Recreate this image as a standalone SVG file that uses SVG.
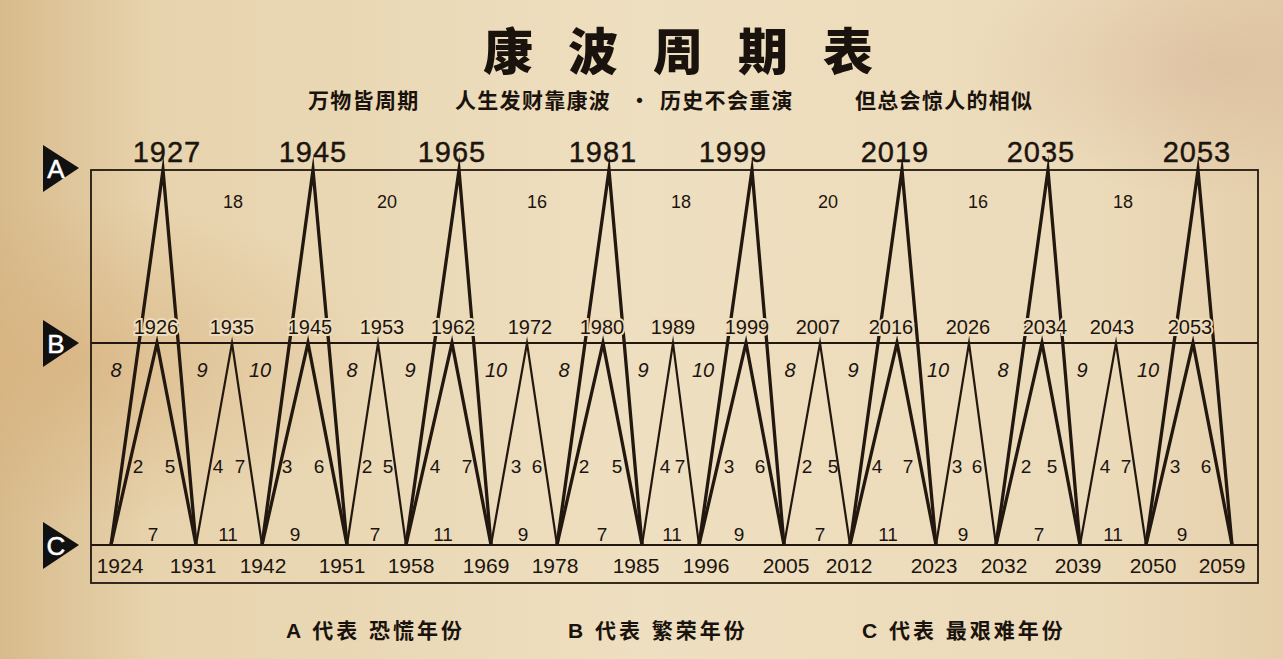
<svg xmlns="http://www.w3.org/2000/svg" width="1283" height="659" viewBox="0 0 1283 659">
<defs>
<linearGradient id="bg" x1="0" y1="0" x2="1" y2="0">
<stop offset="0" stop-color="#d8bb8c"/>
<stop offset="0.12" stop-color="#e7d3ad"/>
<stop offset="0.5" stop-color="#eedfc0"/>
<stop offset="0.85" stop-color="#ecdbba"/>
<stop offset="1" stop-color="#e5cfab"/>
</linearGradient>
<radialGradient id="spot1" cx="0.05" cy="0.55" r="0.25">
<stop offset="0" stop-color="#d6ad78" stop-opacity="0.6"/>
<stop offset="1" stop-color="#d6ad78" stop-opacity="0"/>
</radialGradient>
<radialGradient id="spot2" cx="0.95" cy="0.1" r="0.2">
<stop offset="0" stop-color="#d8b89a" stop-opacity="0.6"/>
<stop offset="1" stop-color="#d8b89a" stop-opacity="0"/>
</radialGradient>
<style>
.t{fill:none;stroke:#221810;stroke-width:3.3;stroke-linejoin:miter;stroke-miterlimit:20}
.n{fill:none;stroke:#221810;stroke-width:2.2;stroke-linejoin:miter;stroke-miterlimit:20}
.box{fill:none;stroke:#221810;stroke-width:1.8}
.ay{font-family:"Liberation Sans",Arial,sans-serif;font-size:29px;fill:#1c140e;text-anchor:middle;letter-spacing:1px;stroke:#1c140e;stroke-width:0.4}
.by{font-family:"Liberation Sans",Arial,sans-serif;font-size:20px;fill:#1c140e;text-anchor:middle;stroke:#ecdcbc;stroke-width:4;paint-order:stroke}
.cy{font-family:"Liberation Sans",Arial,sans-serif;font-size:21px;fill:#1c140e;text-anchor:middle}
.ai{font-family:"Liberation Sans",Arial,sans-serif;font-size:18px;fill:#1c140e;text-anchor:middle}
.it{font-family:"Liberation Sans",Arial,sans-serif;font-size:20px;font-style:italic;fill:#1c140e;text-anchor:middle}
.up{font-family:"Liberation Sans",Arial,sans-serif;font-size:19px;fill:#1c140e;text-anchor:middle}
.tri{fill:#111}
.tl{font-family:"Liberation Sans",Arial,sans-serif;font-size:26px;fill:#fff;text-anchor:middle;stroke:#fff;stroke-width:0.5}
.title{font-family:"Noto Sans CJK SC",sans-serif;font-size:50px;font-weight:900;fill:#1a130d;letter-spacing:35px}
.sub{font-family:"Noto Sans CJK SC",sans-serif;font-size:21px;font-weight:bold;fill:#1a130d;letter-spacing:1.3px}
.leg{font-family:"Liberation Sans","Noto Sans CJK SC",sans-serif;font-size:21px;font-weight:bold;fill:#1a130d;letter-spacing:3px}
</style>
</defs>
<rect width="1283" height="659" fill="url(#bg)"/>
<rect width="1283" height="659" fill="url(#spot1)"/>
<rect width="1283" height="659" fill="url(#spot2)"/>

<g id="title">
<text class="title" x="483" y="70">康波周期表</text>
<text class="sub" x="308" y="108">万物皆周期</text>
<text class="sub" x="455" y="108">人生发财靠康波</text>
<text class="sub" x="629" y="108">·</text>
<text class="sub" x="660" y="108">历史不会重演</text>
<text class="sub" x="855" y="108">但总会惊人的相似</text>
</g>

<g id="frame">
<rect class="box" x="91" y="170" width="1167" height="413"/>
<line class="box" x1="91" y1="343" x2="1258" y2="343"/>
<line class="box" x1="91" y1="545" x2="1258" y2="545"/>
</g>

<g id="markers">
<g id="mark-A"><polygon class="tri" points="43,145 43,192 79,168"/><text class="tl" x="56" y="178">A</text></g>
<g id="mark-B"><polygon class="tri" points="43,320 43,367 79,343"/><text class="tl" x="56" y="353">B</text></g>
<g id="mark-C"><polygon class="tri" points="43,522 43,569 79,545"/><text class="tl" x="56" y="555">C</text></g>
</g>

<g id="connectors">
<polyline class="t" points="111,545 163,170 196,545"/>
<polyline class="t" points="262,545 313,170 347,545"/>
<polyline class="t" points="406,545 459,170 491,545"/>
<polyline class="t" points="557,545 609,170 642,545"/>
<polyline class="t" points="699,545 752,170 784,545"/>
<polyline class="t" points="850,545 902,170 936,545"/>
<polyline class="t" points="996,545 1048,170 1080,545"/>
<polyline class="t" points="1146,545 1198,170 1232,545"/>
<polyline class="t" points="111,545 157,343 196,545"/>
<polyline class="n" points="196,545 232,343 262,545"/>
<polyline class="t" points="262,545 308,343 347,545"/>
<polyline class="n" points="347,545 378,343 406,545"/>
<polyline class="t" points="406,545 452,343 491,545"/>
<polyline class="n" points="491,545 527,343 557,545"/>
<polyline class="t" points="557,545 603,343 642,545"/>
<polyline class="n" points="642,545 673,343 699,545"/>
<polyline class="t" points="699,545 746,343 784,545"/>
<polyline class="n" points="784,545 820,343 850,545"/>
<polyline class="t" points="850,545 897,343 936,545"/>
<polyline class="n" points="936,545 969,343 996,545"/>
<polyline class="t" points="996,545 1042,343 1080,545"/>
<polyline class="n" points="1080,545 1116,343 1146,545"/>
<polyline class="t" points="1146,545 1193,343 1232,545"/>
</g>

<g id="A-years">
<g id="A1927"><text class="ay" x="167" y="162">1927</text></g>
<g id="A1945"><text class="ay" x="313" y="162">1945</text></g>
<g id="A1965"><text class="ay" x="452" y="162">1965</text></g>
<g id="A1981"><text class="ay" x="603" y="162">1981</text></g>
<g id="A1999"><text class="ay" x="733" y="162">1999</text></g>
<g id="A2019"><text class="ay" x="895" y="162">2019</text></g>
<g id="A2035"><text class="ay" x="1041" y="162">2035</text></g>
<g id="A2053"><text class="ay" x="1197" y="162">2053</text></g>
</g>

<g id="A-intervals">
<text class="ai" x="233" y="208">18</text>
<text class="ai" x="387" y="208">20</text>
<text class="ai" x="537" y="208">16</text>
<text class="ai" x="681" y="208">18</text>
<text class="ai" x="828" y="208">20</text>
<text class="ai" x="978" y="208">16</text>
<text class="ai" x="1123" y="208">18</text>
</g>

<g id="B-years">
<g id="B1926"><text class="by" x="156" y="334">1926</text></g>
<g id="B1935"><text class="by" x="232" y="334">1935</text></g>
<g id="B1945"><text class="by" x="310" y="334">1945</text></g>
<g id="B1953"><text class="by" x="382" y="334">1953</text></g>
<g id="B1962"><text class="by" x="453" y="334">1962</text></g>
<g id="B1972"><text class="by" x="530" y="334">1972</text></g>
<g id="B1980"><text class="by" x="602" y="334">1980</text></g>
<g id="B1989"><text class="by" x="673" y="334">1989</text></g>
<g id="B1999"><text class="by" x="747" y="334">1999</text></g>
<g id="B2007"><text class="by" x="818" y="334">2007</text></g>
<g id="B2016"><text class="by" x="891" y="334">2016</text></g>
<g id="B2026"><text class="by" x="968" y="334">2026</text></g>
<g id="B2034"><text class="by" x="1045" y="334">2034</text></g>
<g id="B2043"><text class="by" x="1112" y="334">2043</text></g>
<g id="B2053"><text class="by" x="1190" y="334">2053</text></g>
</g>

<g id="B-intervals">
<text class="it" x="116" y="377">8</text>
<text class="it" x="202" y="377">9</text>
<text class="it" x="260" y="377">10</text>
<text class="it" x="352" y="377">8</text>
<text class="it" x="410" y="377">9</text>
<text class="it" x="496" y="377">10</text>
<text class="it" x="564" y="377">8</text>
<text class="it" x="643" y="377">9</text>
<text class="it" x="703" y="377">10</text>
<text class="it" x="790" y="377">8</text>
<text class="it" x="853" y="377">9</text>
<text class="it" x="938" y="377">10</text>
<text class="it" x="1003" y="377">8</text>
<text class="it" x="1082" y="377">9</text>
<text class="it" x="1148" y="377">10</text>
</g>

<g id="mid-intervals">
<text class="up" x="138" y="473">2</text>
<text class="up" x="170" y="473">5</text>
<text class="up" x="218" y="473">4</text>
<text class="up" x="240" y="473">7</text>
<text class="up" x="287" y="473">3</text>
<text class="up" x="319" y="473">6</text>
<text class="up" x="367" y="473">2</text>
<text class="up" x="388" y="473">5</text>
<text class="up" x="435" y="473">4</text>
<text class="up" x="467" y="473">7</text>
<text class="up" x="516" y="473">3</text>
<text class="up" x="537" y="473">6</text>
<text class="up" x="584" y="473">2</text>
<text class="up" x="617" y="473">5</text>
<text class="up" x="665" y="473">4</text>
<text class="up" x="680" y="473">7</text>
<text class="up" x="729" y="473">3</text>
<text class="up" x="760" y="473">6</text>
<text class="up" x="807" y="473">2</text>
<text class="up" x="833" y="473">5</text>
<text class="up" x="877" y="473">4</text>
<text class="up" x="908" y="473">7</text>
<text class="up" x="957" y="473">3</text>
<text class="up" x="977" y="473">6</text>
<text class="up" x="1026" y="473">2</text>
<text class="up" x="1052" y="473">5</text>
<text class="up" x="1105" y="473">4</text>
<text class="up" x="1126" y="473">7</text>
<text class="up" x="1175" y="473">3</text>
<text class="up" x="1206" y="473">6</text>
</g>

<g id="C-intervals">
<text class="up" x="153" y="541">7</text>
<text class="up" x="228" y="541">11</text>
<text class="up" x="295" y="541">9</text>
<text class="up" x="375" y="541">7</text>
<text class="up" x="443" y="541">11</text>
<text class="up" x="523" y="541">9</text>
<text class="up" x="602" y="541">7</text>
<text class="up" x="672" y="541">11</text>
<text class="up" x="739" y="541">9</text>
<text class="up" x="820" y="541">7</text>
<text class="up" x="888" y="541">11</text>
<text class="up" x="963" y="541">9</text>
<text class="up" x="1039" y="541">7</text>
<text class="up" x="1113" y="541">11</text>
<text class="up" x="1182" y="541">9</text>
</g>

<g id="C-years">
<g id="C1924"><text class="cy" x="120" y="573">1924</text></g>
<g id="C1931"><text class="cy" x="193" y="573">1931</text></g>
<g id="C1942"><text class="cy" x="263" y="573">1942</text></g>
<g id="C1951"><text class="cy" x="342" y="573">1951</text></g>
<g id="C1958"><text class="cy" x="411" y="573">1958</text></g>
<g id="C1969"><text class="cy" x="486" y="573">1969</text></g>
<g id="C1978"><text class="cy" x="555" y="573">1978</text></g>
<g id="C1985"><text class="cy" x="636" y="573">1985</text></g>
<g id="C1996"><text class="cy" x="706" y="573">1996</text></g>
<g id="C2005"><text class="cy" x="786" y="573">2005</text></g>
<g id="C2012"><text class="cy" x="849" y="573">2012</text></g>
<g id="C2023"><text class="cy" x="934" y="573">2023</text></g>
<g id="C2032"><text class="cy" x="1004" y="573">2032</text></g>
<g id="C2039"><text class="cy" x="1078" y="573">2039</text></g>
<g id="C2050"><text class="cy" x="1153" y="573">2050</text></g>
<g id="C2059"><text class="cy" x="1222" y="573">2059</text></g>
</g>

<g id="legend">
<text class="leg" x="286" y="638">A 代表 恐慌年份</text>
<text class="leg" x="568" y="638">B 代表 繁荣年份</text>
<text class="leg" x="862" y="638">C 代表 最艰难年份</text>
</g>
</svg>
